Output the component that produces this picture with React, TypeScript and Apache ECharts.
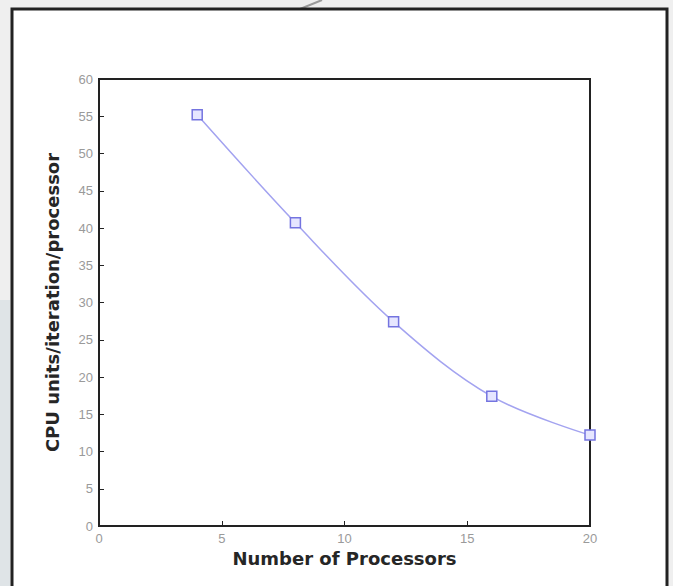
import React, { useEffect, useRef } from "react";
import * as echarts from "echarts";

const processors = [4, 8, 12, 16, 20];
const cpuUnits = [55.2, 40.7, 27.4, 17.4, 12.2];
const xTicks = { min: 0, max: 20, interval: 5 };
const yTicks = { min: 0, max: 60, interval: 5 };
const xTitle = "Number of Processors";
const yTitle = "CPU units/iteration/processor";

export default function App() {
  const ref = useRef<HTMLDivElement>(null);
  useEffect(() => {
    if (!ref.current) return;
    const chart = echarts.init(ref.current, null, { renderer: "svg" });
    const labelStyle = {
      color: "#9a9a9a",
      fontFamily: "Liberation Sans, Arial, sans-serif",
      fontSize: 13,
    };
    const titleStyle = {
      color: "#262626",
      fontFamily: "DejaVu Sans, sans-serif",
      fontSize: 18,
      fontWeight: "bold" as const,
    };
    chart.setOption({
      animation: false,
      backgroundColor: "#efefef",
      graphic: [
        {
          type: "rect",
          z: -10,
          shape: { x: 0, y: 300, width: 10, height: 286 },
          style: { fill: "#dfe4e7" },
        },
        {
          type: "line",
          z: -10,
          shape: { x1: 300, y1: 9, x2: 322, y2: 0 },
          style: { stroke: "#9a9a9a", lineWidth: 2 },
        },
        {
          type: "rect",
          z: -5,
          shape: { x: 12, y: 9, width: 655, height: 600 },
          style: { fill: "#ffffff", stroke: "#222222", lineWidth: 3 },
        },
      ],
      grid: {
        left: 99,
        top: 79,
        right: 83,
        bottom: 60,
        show: true,
        backgroundColor: "transparent",
        borderColor: "#222",
        borderWidth: 2,
      },
      xAxis: {
        type: "value",
        min: xTicks.min,
        max: xTicks.max,
        interval: xTicks.interval,
        name: xTitle,
        nameLocation: "middle",
        nameGap: 23,
        nameTextStyle: titleStyle,
        axisLine: { lineStyle: { color: "#222", width: 2 } },
        axisTick: { inside: true, length: 5, lineStyle: { color: "#222" } },
        axisLabel: { ...labelStyle, margin: 6 },
        splitLine: { show: false },
      },
      yAxis: {
        type: "value",
        min: yTicks.min,
        max: yTicks.max,
        interval: yTicks.interval,
        name: yTitle,
        nameLocation: "middle",
        nameGap: 38,
        nameTextStyle: titleStyle,
        axisLine: { show: true, lineStyle: { color: "#222", width: 2 } },
        axisTick: { show: true, inside: true, length: 5, lineStyle: { color: "#222" } },
        axisLabel: { ...labelStyle, margin: 6 },
        splitLine: { show: false },
      },
      series: [
        {
          type: "line",
          data: processors.map((p, i) => [p, cpuUnits[i]]),
          smooth: 0.35,
          symbol: "rect",
          symbolSize: 10,
          lineStyle: { color: "#a3a3f0", width: 1.5 },
          itemStyle: { color: "#e6e6ff", borderColor: "#7474e0", borderWidth: 1.5 },
        },
      ],
    });
    return () => chart.dispose();
  }, []);
  return (
    <div
      ref={ref}
      style={{ position: "fixed", left: 0, top: 0, width: 673, height: 586 }}
    />
  );
}
